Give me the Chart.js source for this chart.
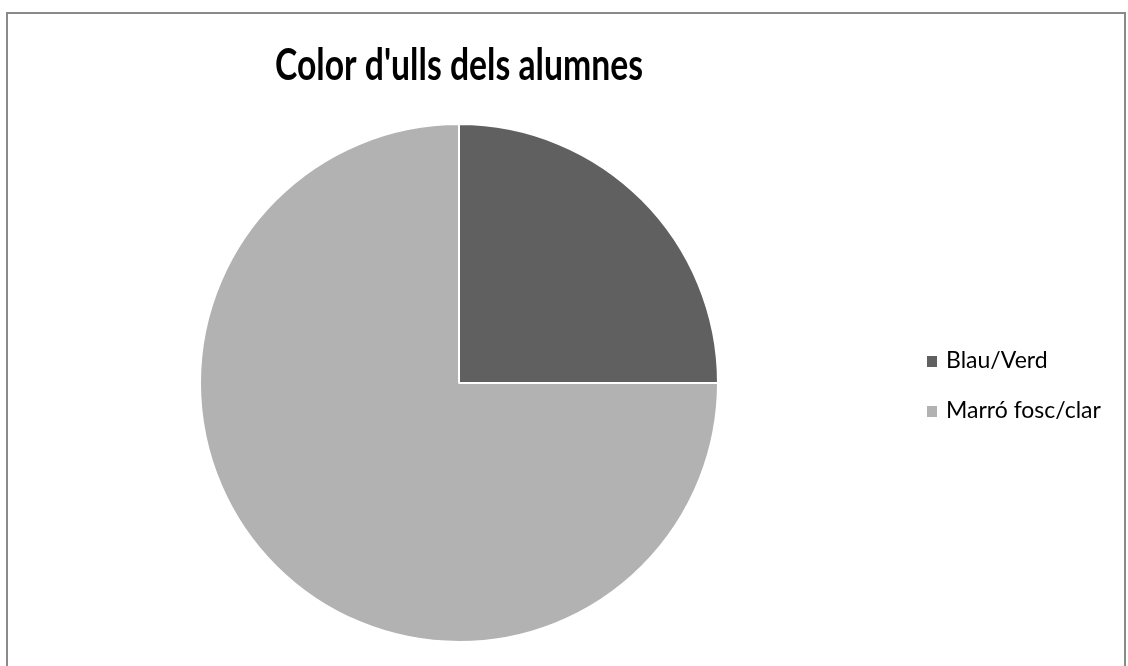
<!DOCTYPE html>
<html>
<head>
<meta charset="utf-8">
<script src="https://cdn.jsdelivr.net/npm/chart.js@4/dist/chart.umd.min.js"></script>
<style>
    html, body { margin: 0; padding: 0; background: #fff; overflow: hidden; }
    #wrap { position: relative; width: 1128px; height: 666px; }
    #frame {
        position: absolute; left: 6px; top: 12px; width: 1120px; height: 700px;
        border: 2px solid #8a8a8a; box-sizing: border-box;
    }
    #chart { position: absolute; left: 0; top: 0; }
</style>
</head>
<body>
<div id="wrap">
    <div id="frame"></div>
    <canvas id="chart" width="1128" height="666"></canvas>
</div>
<script>
// Dades del gràfic
const titol = "Color d'ulls dels alumnes";
const categories = ['Blau/Verd', 'Marró fosc/clar'];
const alumnes = [5, 15];
const colors = ['#606060', '#b2b2b2'];

const FONT = 'Lato, "Open Sans", sans-serif';

// Títol i llegenda dibuixats a mà
const titolILlegenda = {
    id: 'titolILlegenda',
    afterDraw: function(chart) {
        const ctx = chart.ctx;
        ctx.save();
        ctx.fillStyle = '#000';
        ctx.font = 'bold 43px ' + FONT;
        ctx.textAlign = 'center';
        ctx.textBaseline = 'alphabetic';
        // lletra més estreta
        const w = ctx.measureText(titol).width;
        const sx = 368 / w;
        ctx.translate(459, 80);
        ctx.scale(sx, 1);
        ctx.fillText(titol, 0, 0);
        ctx.restore();

        ctx.save();
        ctx.font = '23px ' + FONT;
        ctx.textAlign = 'left';
        ctx.textBaseline = 'alphabetic';
        const labels = chart.data.labels;
        const bg = chart.data.datasets[0].backgroundColor;
        labels.forEach(function(label, i) {
            const y = 368 + i * 50;
            ctx.fillStyle = bg[i];
            ctx.fillRect(927, y - 12, 10, 11);
            ctx.fillStyle = '#000';
            ctx.fillText(label, 946, y);
        });
        ctx.restore();
    }
};

const ctx = document.getElementById('chart').getContext('2d');
new Chart(ctx, {
    type: 'pie',
    data: {
        labels: categories,
        datasets: [{
            data: alumnes,
            backgroundColor: colors,
            borderColor: '#ffffff',
            borderWidth: 2
        }]
    },
    options: {
        responsive: false,
        animation: false,
        layout: {
            padding: { left: 199, right: 409, top: 123, bottom: 23 }
        },
        plugins: {
            legend: { display: false },
            title: { display: false },
            tooltip: { enabled: false }
        }
    },
    plugins: [titolILlegenda]
});
</script>
</body>
</html>
